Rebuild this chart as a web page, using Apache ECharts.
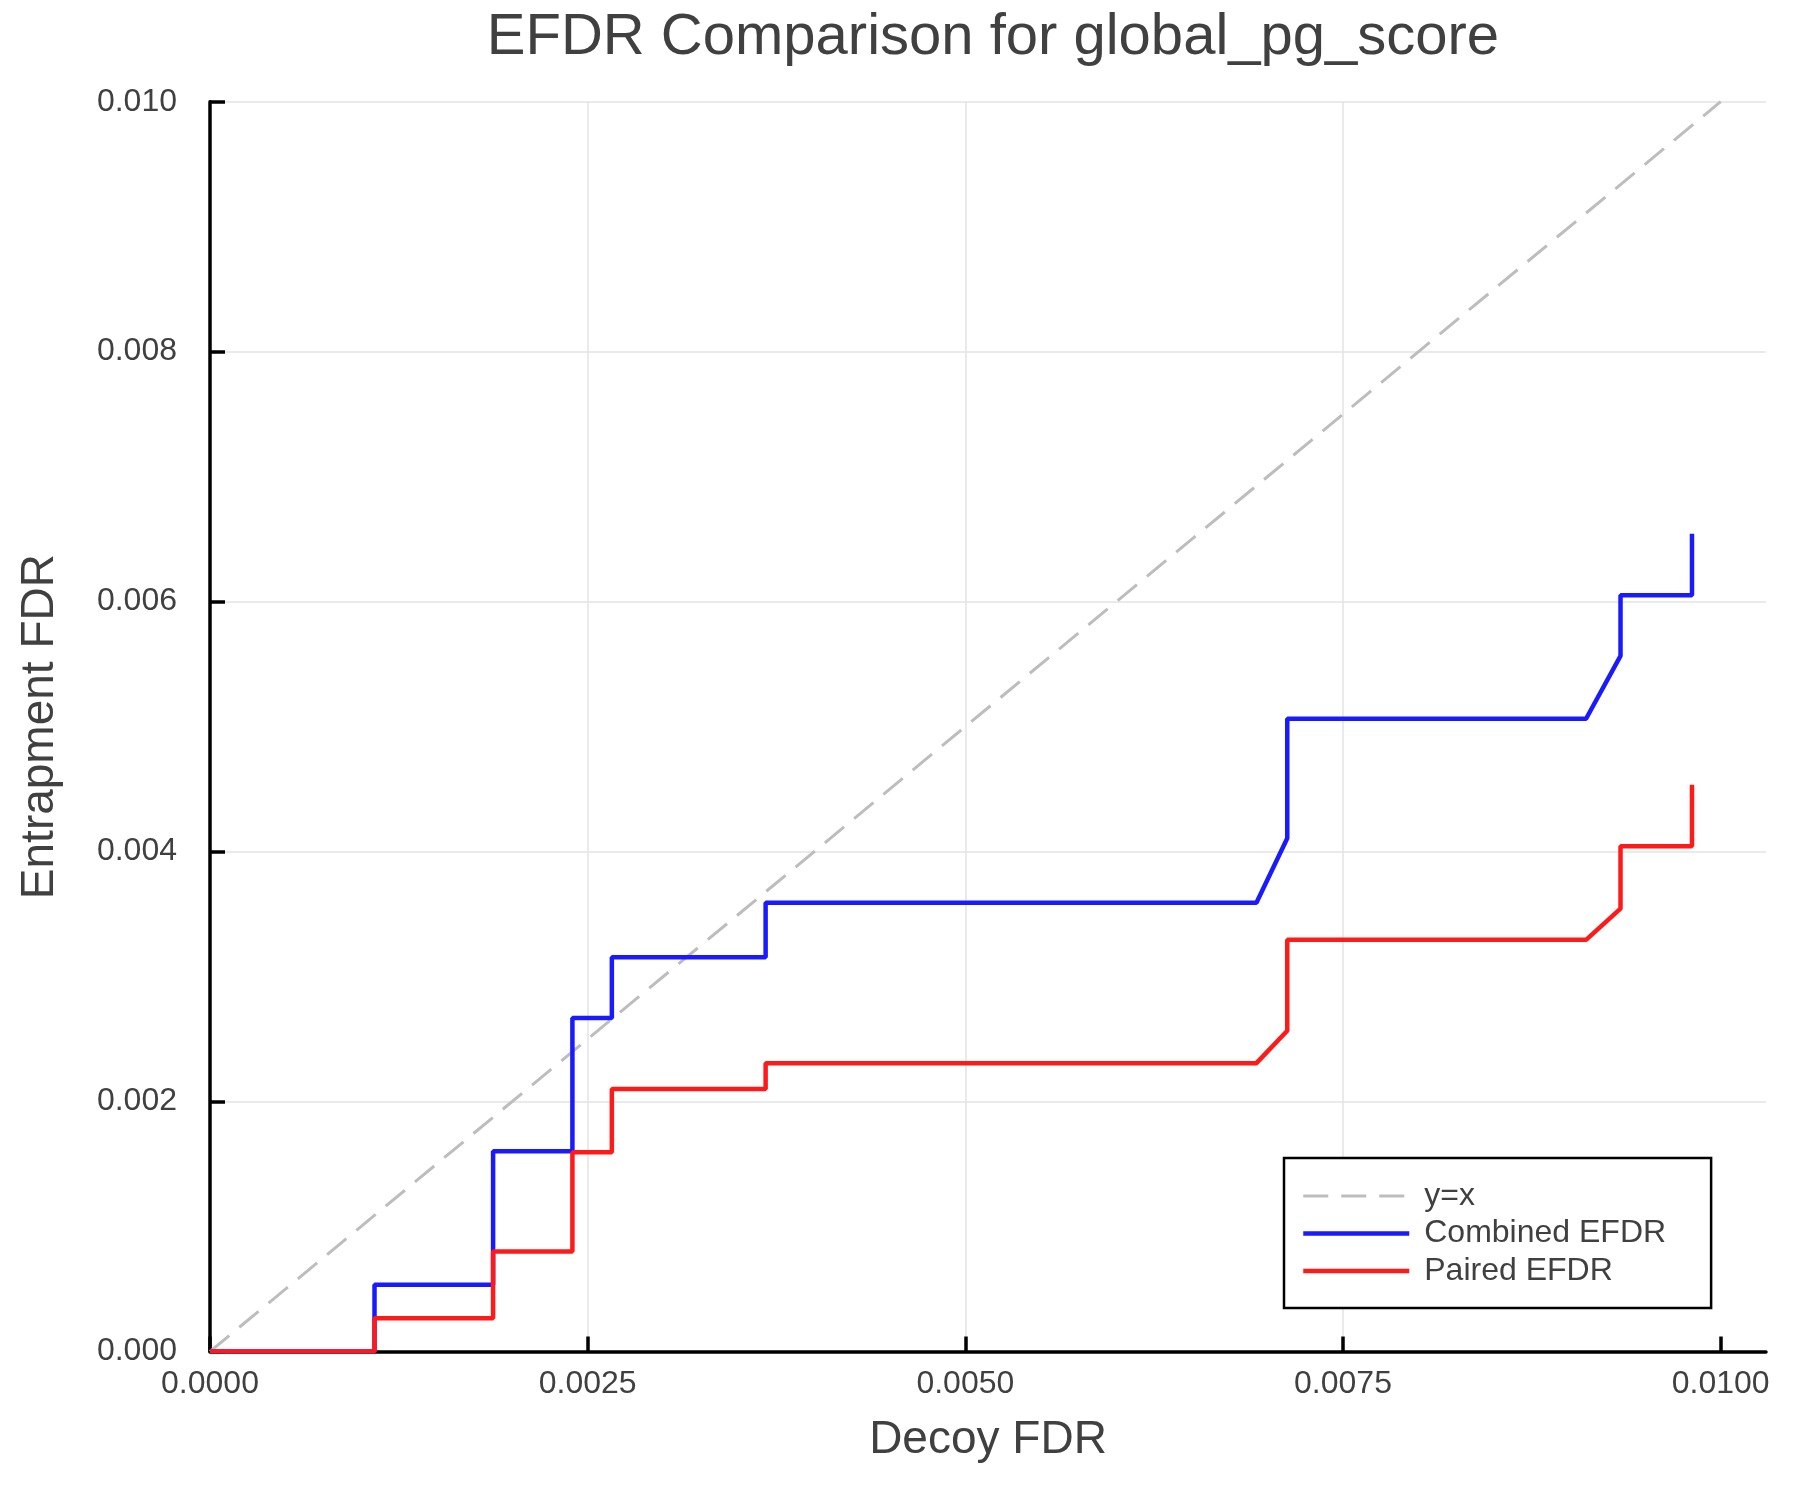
<!DOCTYPE html>
<html>
<head>
<meta charset="utf-8">
<script src="https://cdn.jsdelivr.net/npm/echarts@6/dist/echarts.min.js"></script>
<style>html,body{margin:0;padding:0;background:#fff}#c{width:1800px;height:1500px}</style>
</head>
<body>
<div id="c"></div>
<script>
// ---- data ----
const titleText = "EFDR Comparison for global_pg_score";
const xTicks = [0, 0.0025, 0.005, 0.0075, 0.01];
const yTicks = [0, 0.002, 0.004, 0.006, 0.008, 0.01];
const diagX = [0, 0.01];
const diagY = [0, 0.01];
const decoyX = [0, 0.001089, 0.001089, 0.001874, 0.001874, 0.002399, 0.002399, 0.00266, 0.00266, 0.003678, 0.003678, 0.006927, 0.007131, 0.007131, 0.009109, 0.009337, 0.009337, 0.00981, 0.00981];
const combinedY = [0, 0, 0.000534, 0.000534, 0.001602, 0.001602, 0.002668, 0.002668, 0.003154, 0.003154, 0.003591, 0.003591, 0.004106, 0.005063, 0.005063, 0.005566, 0.006051, 0.006051, 0.006543];
const pairedY = [0, 0, 0.000267, 0.000267, 0.000801, 0.000801, 0.001594, 0.001594, 0.002101, 0.002101, 0.002307, 0.002307, 0.002566, 0.003294, 0.003294, 0.003543, 0.004043, 0.004043, 0.004534];
const seriesNames = ["y=x", "Combined EFDR", "Paired EFDR"];

const zip = (xs, ys) => xs.map((x, i) => [x, ys[i]]);
const FONT = "Liberation Sans";
const TXT = "#404040";

const chart = echarts.init(document.getElementById('c'), null, {renderer: 'canvas'});
chart.setOption({
  animation: false,
  backgroundColor: '#ffffff',
  title: {
    text: titleText, left: 988, textAlign: 'center', top: 4,
    textStyle: {fontFamily: FONT, fontSize: 58, fontWeight: 'normal', color: TXT}
  },
  grid: {left: 210, right: 34, top: 101.7, bottom: 148.5, containLabel: false},
  legend: {
    orient: 'vertical', left: 1284, top: 1158,
    data: [
      {name: seriesNames[0], lineStyle: {width: 3}},
      {name: seriesNames[1], lineStyle: {width: 4.5}},
      {name: seriesNames[2], lineStyle: {width: 4.5}}
    ],
    itemWidth: 106, itemHeight: 14, itemGap: 5.5,
    padding: [22, 45, 21, 17],
    borderColor: '#000', borderWidth: 2.5, borderRadius: 0,
    backgroundColor: '#fff',
    itemStyle: {color: 'transparent', borderWidth: 0, opacity: 0},
    lineStyle: {width: 4.5},
    textStyle: {fontFamily: FONT, fontSize: 32, color: TXT, padding: [0, 0, 0, 10], lineHeight: 32}
  },
  xAxis: {
    type: 'value', min: 0, max: 0.0103, interval: 0.0025,
    name: 'Decoy FDR', nameLocation: 'middle', nameGap: 66,
    nameTextStyle: {fontFamily: FONT, fontSize: 46, color: TXT},
    axisLine: {show: true, onZero: false, lineStyle: {color: '#000', width: 3.5}},
    axisTick: {show: true, inside: true, length: 15, customValues: xTicks, lineStyle: {color: '#000', width: 3.5}},
    axisLabel: {customValues: xTicks, margin: 17, fontFamily: FONT, fontSize: 32, color: TXT,
      formatter: v => v.toFixed(4)},
    splitLine: {show: true, showMaxLine: false, lineStyle: {color: '#e3e3e3', width: 1.5}}
  },
  yAxis: {
    type: 'value', min: 0, max: 0.01, interval: 0.002,
    name: 'Entrapment FDR', nameLocation: 'middle', nameGap: 147, nameRotate: 90,
    nameTextStyle: {fontFamily: FONT, fontSize: 46, color: TXT},
    axisLine: {show: true, onZero: false, lineStyle: {color: '#000', width: 3.5}},
    axisTick: {show: true, inside: true, length: 15, lineStyle: {color: '#000', width: 3.5}},
    axisLabel: {margin: 33, fontFamily: FONT, fontSize: 32, color: TXT,
      formatter: v => v.toFixed(3)},
    splitLine: {show: true, lineStyle: {color: '#e3e3e3', width: 1.5}}
  },
  series: [
    {name: seriesNames[0], type: 'line', data: zip(diagX, diagY), showSymbol: false, symbol: 'none',
      lineStyle: {color: '#bdbdbd', width: 3, type: [25, 13]}, itemStyle: {color: '#bdbdbd'}},
    {name: seriesNames[1], type: 'line', data: zip(decoyX, combinedY), showSymbol: false, symbol: 'none',
      lineStyle: {color: '#1a1aff', width: 4.5}, itemStyle: {color: '#1a1aff'}},
    {name: seriesNames[2], type: 'line', data: zip(decoyX, pairedY), showSymbol: false, symbol: 'none',
      lineStyle: {color: '#ff1a1a', width: 4.5}, itemStyle: {color: '#ff1a1a'}}
  ]
});
</script>
</body>
</html>
